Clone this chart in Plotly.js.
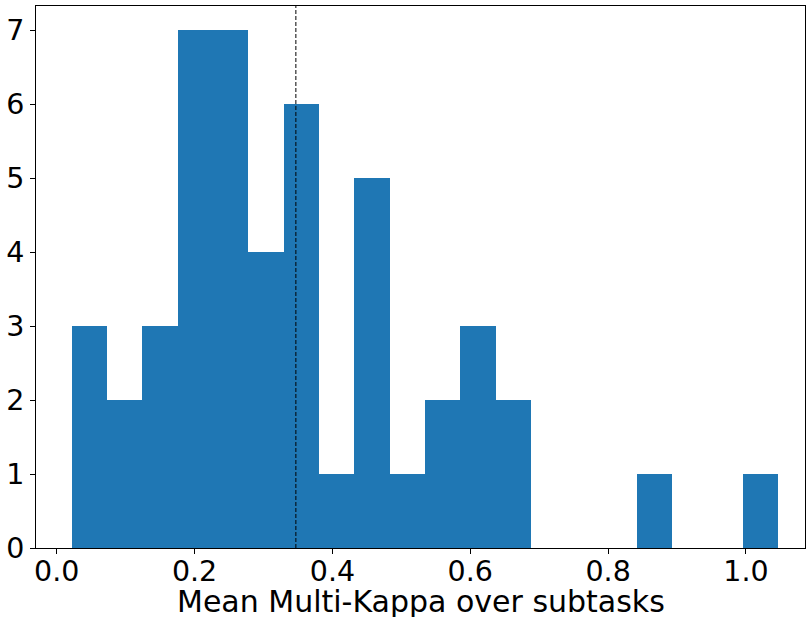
<!DOCTYPE html>
<html>
<head>
<meta charset="utf-8">
<script src="https://cdn.plot.ly/plotly-3.0.1.min.js"></script>
<style>html,body{margin:0;padding:0;background:#fff;}#chart{width:806px;height:617px;}</style>
</head>
<body>
<div id="chart"></div>
<script>
// Histogram data (20 bins)
const binMin = 0.0218;
const binMax = 1.0469;
const counts = [3, 2, 3, 7, 7, 4, 6, 1, 5, 1, 2, 3, 2, 0, 0, 0, 1, 0, 0, 1];
const meanValue = 0.347;
const xTicks = [0.0, 0.2, 0.4, 0.6, 0.8, 1.0];
const yTicks = [0, 1, 2, 3, 4, 5, 6, 7];
const xTitle = "Mean Multi-Kappa over subtasks";

const nBins = counts.length;
const binWidth = (binMax - binMin) / nBins;
const centers = counts.map((_, i) => binMin + binWidth * (i + 0.5));

const trace = {
  type: 'bar',
  x: centers,
  y: counts,
  width: binWidth,
  marker: {color: '#1f77b4', line: {width: 0}},
  hoverinfo: 'x+y'
};

const font = "'DejaVu Sans', sans-serif";
const layout = {
  width: 806, height: 617,
  margin: {l: 36, r: 1, t: 6, b: 69},
  paper_bgcolor: '#fff', plot_bgcolor: '#fff',
  showlegend: false,
  bargap: 0,
  font: {family: font, color: '#000', size: 28},
  xaxis: {
    range: [-0.030, 1.0856],
    tickvals: xTicks,
    tickformat: '.1f',
    ticks: 'outside', ticklen: 5, tickwidth: 1, tickcolor: '#000',
    ticklabelstandoff: -7,
    showline: true, linecolor: '#000', linewidth: 1, mirror: true,
    showgrid: false, zeroline: false,
    tickfont: {family: font, size: 28.5, color: '#000'}
  },
  yaxis: {
    range: [0, 7.33],
    tickvals: yTicks,
    ticks: 'outside', ticklen: 5, tickwidth: 1, tickcolor: '#000',
    showline: true, linecolor: '#000', linewidth: 1, mirror: true,
    showgrid: false, zeroline: false,
    tickfont: {family: font, size: 28.5, color: '#000'}
  },
  annotations: [{
    text: xTitle, xref: 'paper', yref: 'paper', x: 0.5, y: 0,
    xanchor: 'center', yanchor: 'middle', yshift: -53, showarrow: false,
    borderpad: 0,
    font: {family: font, size: 30, color: '#000'}
  }],
  shapes: [{
    type: 'line', xref: 'x', yref: 'paper',
    x0: meanValue, x1: meanValue, y0: 0, y1: 1,
    line: {color: '#000', width: 1, dash: '4px,2px'}
  }]
};

Plotly.newPlot('chart', [trace], layout, {displayModeBar: false, staticPlot: true});
</script>
</body>
</html>
